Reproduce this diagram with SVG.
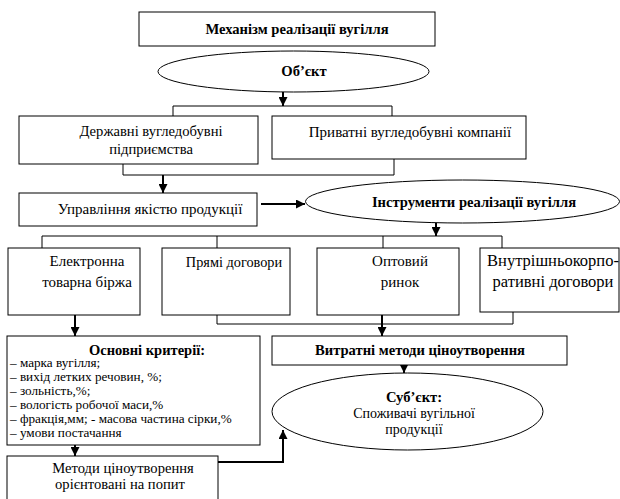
<svg xmlns="http://www.w3.org/2000/svg" width="620" height="499" viewBox="0 0 620 499">
<style>
.box{fill:#fff;stroke:#000;stroke-width:1}
.t{font-family:"Liberation Serif","Times New Roman",serif;font-size:14.6px;fill:#000;text-anchor:middle}
.b{font-weight:bold}
.s{font-family:"Liberation Serif","Times New Roman",serif;font-size:13.2px;fill:#000}
.ln{fill:none;stroke:#000;stroke-width:1}
.ar{fill:none;stroke:#000;stroke-width:2;marker-end:url(#ah)}
</style>
<defs>
<marker id="ah" viewBox="0 0 10 10" refX="10" refY="5" markerWidth="4.5" markerHeight="4.5" orient="auto" markerUnits="strokeWidth">
<path d="M0,0 L10,5 L0,10 Z" fill="#000"/>
</marker>
</defs>
<rect width="620" height="499" fill="#fff"/>
<g id="connectors">
<path class="ar" d="M283,92 V106"/>
<path class="ln" d="M173,116 V106 H392 V116"/>
<path class="ln" d="M123,164 V175 H394 V159"/>
<path class="ar" d="M163,175 V193"/>
<path class="ar" d="M261,204 H305"/>
<path class="ar" d="M436,223 V236"/>
<path class="ln" d="M42,248 V236 H502 V248"/>
<path class="ln" d="M217,236 V248"/>
<path class="ln" d="M383,236 V248"/>
<path class="ln" d="M217,315 V324 H513 V312"/>
<path class="ar" d="M382,315 V336"/>
<path class="ar" d="M75,315 V336"/>
<path class="ar" d="M404,365 V373"/>
<path class="ar" d="M75,445 V456"/>
<path class="ar" d="M218,462 H283 V430"/>
</g>
<g id="title">
<rect class="box" x="139" y="12" width="296" height="34"/>
<text class="t b" x="297" y="34">Механізм реалізації вугілля</text>
</g>
<g id="object">
<ellipse class="box" cx="293.5" cy="71.5" rx="135.5" ry="20.5"/>
<text class="t b" x="304" y="76">Об’єкт</text>
</g>
<g id="state">
<rect class="box" x="19" y="116" width="239" height="48"/>
<text class="t" x="151" y="136">Державні вугледобувні</text>
<text class="t" x="151" y="154">підприємства</text>
</g>
<g id="private">
<rect class="box" x="272" y="116" width="254" height="43"/>
<text class="t" x="410" y="137" style="font-size:15px">Приватні вугледобувні компанії</text>
</g>
<g id="quality">
<rect class="box" x="19" y="193" width="238" height="33"/>
<text class="t" x="150" y="214" style="font-size:15px">Управління якістю продукції</text>
</g>
<g id="tools">
<ellipse class="box" cx="462.5" cy="201.5" rx="157" ry="21.5"/>
<text class="t b" x="474" y="207">Інструменти реалізації вугілля</text>
</g>
<g id="exchange">
<rect class="box" x="8" y="248" width="132" height="67"/>
<text class="t" x="87" y="266" style="font-size:15px">Електронна</text>
<text class="t" x="87" y="287" style="font-size:15px">товарна біржа</text>
</g>
<g id="direct">
<rect class="box" x="162" y="248" width="128" height="67"/>
<text class="t" x="234" y="267" style="font-size:14.3px">Прямі договори</text>
</g>
<g id="wholesale">
<rect class="box" x="317" y="248" width="142" height="67"/>
<text class="t" x="400" y="266" style="font-size:15px">Оптовий</text>
<text class="t" x="400" y="287" style="font-size:15px">ринок</text>
</g>
<g id="intracorp">
<rect class="box" x="480" y="248" width="139" height="64"/>
<text class="t" x="553" y="266" style="font-size:16.5px">Внутрішньокорпо-</text>
<text class="t" x="553" y="287" style="font-size:16.5px">ративні договори</text>
</g>
<g id="criteria">
<rect class="box" x="7" y="336" width="253" height="109"/>
<text class="t b" x="147" y="355" style="font-size:14.5px">Основні критерії:</text>
<text class="s" x="10" y="367">– марка вугілля;</text>
<text class="s" x="10" y="381">– вихід летких речовин, %;</text>
<text class="s" x="10" y="395">– зольність,%;</text>
<text class="s" x="10" y="409">– вологість робочої маси,%</text>
<text class="s" x="10" y="423">– фракція,мм; - масова частина сірки,%</text>
<text class="s" x="10" y="437">– умови постачання</text>
</g>
<g id="cost">
<rect class="box" x="272" y="336" width="295" height="29"/>
<text class="t b" x="420" y="355">Витратні методи ціноутворення</text>
</g>
<g id="subject">
<ellipse class="box" cx="407.5" cy="411.5" rx="135.5" ry="38.5"/>
<text class="t b" x="414" y="402">Суб’єкт:</text>
<text class="t" x="414" y="418" style="font-size:14px">Споживачі вугільної</text>
<text class="t" x="414" y="434" style="font-size:14px">продукції</text>
</g>
<g id="demand">
<rect class="box" x="7" y="456" width="211" height="50"/>
<text class="t" x="123" y="473">Методи ціноутворення</text>
<text class="t" x="120" y="489">орієнтовані на попит</text>
</g>
</svg>
